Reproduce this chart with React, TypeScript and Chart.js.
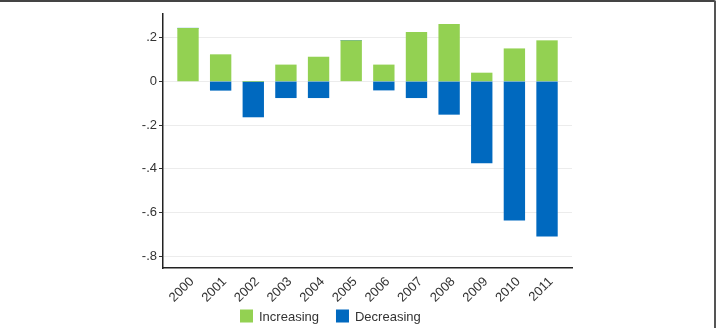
import React, { useEffect, useRef } from "react";
import { Chart, registerables } from "chart.js";

Chart.register(...registerables);

const years = ["2000", "2001", "2002", "2003", "2004", "2005", "2006", "2007", "2008", "2009", "2010", "2011"];
const increasing = [0.243, 0.122, 0, 0.075, 0.111, 0.186, 0.075, 0.224, 0.261, 0.038, 0.149, 0.186];
const decreasing = [0, -0.041, -0.163, -0.075, -0.075, 0, -0.04, -0.075, -0.151, -0.373, -0.635, -0.708];
const yTickValues = [-0.8, -0.6, -0.4, -0.2, 0, 0.2];
const yTickLabels = ["-.8", "-.6", "-.4", "-.2", "0", ".2"];
const seriesNames = ["Increasing", "Decreasing"];

const GREEN = "#93d152";
const BLUE = "#0069bf";
const FONT = "'Liberation Sans', Arial, Helvetica, sans-serif";

const legendPlugin = {
  id: "customLegend",
  afterDraw(chart: any) {
    const ctx = chart.ctx;
    ctx.save();
    ctx.font = `13px ${FONT}`;
    ctx.textBaseline = "middle";
    ctx.textAlign = "left";
    const y = 316;
    const box = 13;
    let x = 240;
    chart.data.datasets.forEach((ds: any) => {
      ctx.fillStyle = ds.backgroundColor;
      ctx.fillRect(x, y - box / 2, box, box);
      ctx.fillStyle = "#333";
      ctx.fillText(ds.label, x + box + 6, y + 1);
      x += box + 6 + ctx.measureText(ds.label).width + 17;
    });
    ctx.restore();
  },
};

export default function App() {
  const ref = useRef<HTMLCanvasElement | null>(null);
  useEffect(() => {
    if (!ref.current) return;
    const chart = new Chart(ref.current, {
      type: "bar",
      data: {
        labels: years,
        datasets: [
          {
            label: seriesNames[0],
            data: increasing.map((v, i) => ({ x: i, y: v })),
            backgroundColor: GREEN,
            barThickness: 20.7,
          },
          {
            label: seriesNames[1],
            data: decreasing.map((v, i) => ({ x: i, y: v })),
            backgroundColor: BLUE,
            barThickness: 20.7,
          },
        ],
      },
      options: {
        animation: false,
        responsive: false,
        maintainAspectRatio: false,
        layout: { padding: { left: 0, top: 14, right: 147, bottom: 0 } },
        plugins: { legend: { display: false }, tooltip: { enabled: false } },
        scales: {
          x: {
            type: "linear",
            stacked: true,
            min: -0.766,
            max: 11.765,
            offset: false,
            afterBuildTicks: (scale: any) => {
              scale.ticks = years.map((_, i) => ({ value: i }));
            },
            afterFit: (scale: any) => {
              scale.height = 60;
            },
            grid: { display: false },
            border: { display: true, color: "#222", width: 1.5 },
            ticks: {
              minRotation: 45,
              maxRotation: 45,
              autoSkip: false,
              padding: -2,
              labelOffset: 4,
              color: "#333",
              font: { family: FONT, size: 13 },
              callback: (v: any) => years[Math.round(Number(v))] ?? "",
            },
          },
          y: {
            type: "linear",
            stacked: true,
            min: -0.854,
            max: 0.308,
            afterBuildTicks: (scale: any) => {
              scale.ticks = yTickValues.map((v) => ({ value: v }));
            },
            afterFit: (scale: any) => {
              scale.width = 163;
            },
            grid: {
              color: "#ececec",
              lineWidth: 1,
              tickLength: 4,
              tickColor: "#333",
              drawTicks: true,
            },
            border: { display: true, color: "#222", width: 1.5 },
            ticks: {
              padding: 2,
              color: "#333",
              font: { family: FONT, size: 13 },
              callback: (v: any) => {
                const idx = yTickValues.findIndex((t) => Math.abs(t - Number(v)) < 1e-6);
                return idx >= 0 ? yTickLabels[idx] : "";
              },
            },
          },
        },
      },
      plugins: [legendPlugin],
    });
    return () => chart.destroy();
  }, []);

  return (
    <div style={{ position: "absolute", left: 0, top: 0, width: 719, height: 328, background: "#fff", overflow: "hidden" }}>
      <canvas ref={ref} width={719} height={328} style={{ display: "block", width: 719, height: 328 }} />
      <div
        style={{
          position: "absolute",
          left: 0,
          top: 0,
          width: 716,
          height: 328,
          borderTop: "2px solid #444",
          borderRight: "2px solid #555",
          borderTopRightRadius: 2,
          boxSizing: "border-box",
          pointerEvents: "none",
        }}
      />
    </div>
  );
}
